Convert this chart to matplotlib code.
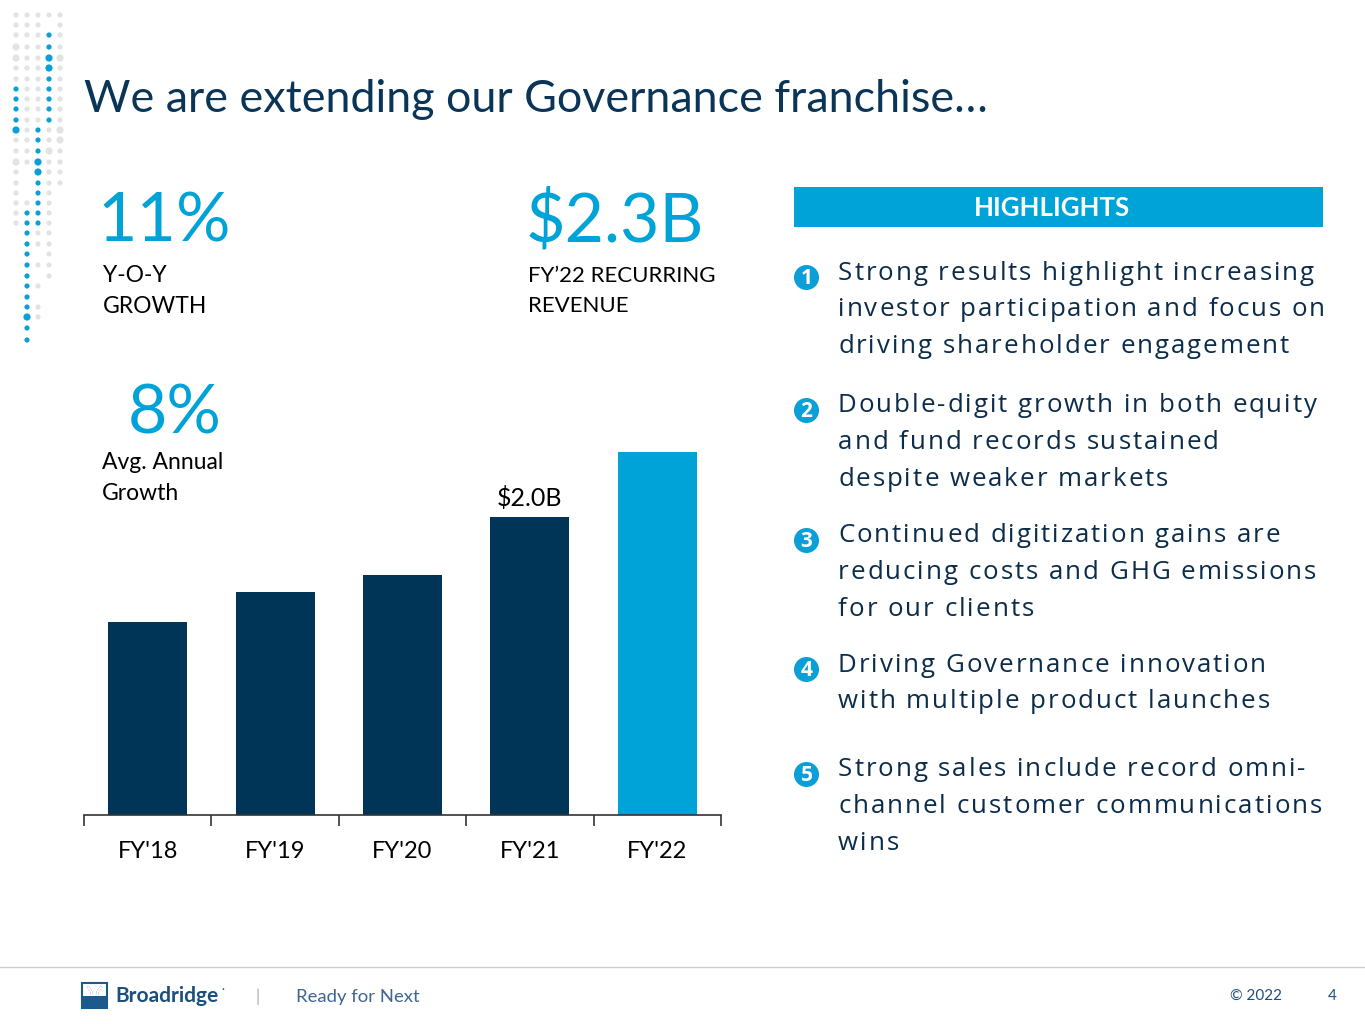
import matplotlib
matplotlib.use("Agg")
import matplotlib.pyplot as plt
from matplotlib.patches import Rectangle, Circle, Arc
from matplotlib.font_manager import FontProperties

W, H = 1365, 1024
NAVY = "#0A3556"
BAR_DARK = "#003557"
BLUE = "#00A3D8"
TEXT_DARK = "#0B2C4A"

# ---- data ----
categories = ["FY'18", "FY'19", "FY'20", "FY'21", "FY'22"]
revenue_b = [1.30, 1.50, 1.61, 2.00, 2.44]   # relative bar heights
bar_colors = [BAR_DARK, BAR_DARK, BAR_DARK, BAR_DARK, BLUE]
bar_label_idx = 3
bar_label_text = "$2.0B"

title = "We are extending our Governance franchise…"
kpi_values = ["11%", "$2.3B", "8%"]
kpi_labels = ["Y-O-Y\nGROWTH", "FY’22 RECURRING\nREVENUE", "Avg. Annual\nGrowth"]

highlights = [
    ["Strong results highlight increasing",
     "investor participation and focus on",
     "driving shareholder engagement"],
    ["Double-digit growth in both equity",
     "and fund records sustained",
     "despite weaker markets"],
    ["Continued digitization gains are",
     "reducing costs and GHG emissions",
     "for our clients"],
    ["Driving Governance innovation",
     "with multiple product launches"],
    ["Strong sales include record omni-",
     "channel customer communications",
     "wins"],
]
highlight_tops = [272, 405, 535, 664, 769]

plt.rcParams['font.family'] = ['Lato', 'DejaVu Sans']

fig = plt.figure(figsize=(W / 100, H / 100), dpi=100)
fig.patch.set_facecolor("white")
renderer = fig.canvas.get_renderer()

# overlay axes in pixel coordinates
ov = fig.add_axes([0, 0, 1, 1])
ov.set_xlim(0, W)
ov.set_ylim(H, 0)
ov.axis("off")
ov.set_zorder(0)


def spaced_text(x, y, s, size, spacing, color, family):
    """Draw text with extra letter spacing (pixels) by placing characters."""
    fp = FontProperties(family=family, size=size)
    ref_w = renderer.get_text_width_height_descent("I", fp, ismath=False)[0]
    for k, ch in enumerate(s):
        if ch == " ":
            continue
        if k == 0:
            off = 0.0
        else:
            off = renderer.get_text_width_height_descent(s[:k] + "I", fp, ismath=False)[0] - ref_w
        ov.text(x + off + k * spacing, y, ch, fontproperties=fp, color=color,
                ha="left", va="baseline")


# ---- decorative dot pattern ----
rows = [4, 15, 25, 35, 47, 58, 68, 79, 89, 99, 109, 120, 130, 140, 151, 162,
        172, 183, 193, 203, 213, 223, 233, 244, 254, 265, 276, 286, 297, 307,
        317, 328, 340]
cols_x = [16, 27, 38, 49, 60]
pattern = [
    ".gggGGggbbbbBggGgggggg...........",
    ".ggggggggggggggg...gbbbbbbbbbbBbb",
    ".gggggggggggbbbBBbbbbbgg.g.g.gg..",
    ".g.bbBBbbbbbggGgggggggggggg......",
    ".ggggGggggggGGgggg...............",
]
for cx, colpat in zip(cols_x, pattern):
    for ry, ch in zip(rows, colpat):
        if ch == '.':
            continue
        color = "#E3E3E3" if ch in "gG" else "#0A9FD6"
        r = 3.6 if ch in "GB" else 2.6
        ov.add_patch(Circle((cx, ry), r, color=color, lw=0))

# ---- title ----
ov.text(84, 100, title, fontsize=32.3, color=NAVY, va="center", ha="left")

# ---- KPI texts ----
ov.text(97, 222, kpi_values[0], fontsize=49, color=BLUE, va="center", ha="left")
ov.text(103, 291, kpi_labels[0], fontsize=16.5, color="black", va="center", ha="left", linespacing=1.55)
ov.text(526, 222, kpi_values[1], fontsize=49, color=BLUE, va="center", ha="left")
ov.text(528, 291, kpi_labels[1], fontsize=16.0, color="black", va="center", ha="left", linespacing=1.58)
ov.text(128, 414, kpi_values[2], fontsize=49, color=BLUE, va="center", ha="left")
ov.text(102, 478, kpi_labels[2], fontsize=16.5, color="black", va="center", ha="left", linespacing=1.55)

# ---- highlights ----
ov.add_patch(Rectangle((794, 187), 529, 40, color=BLUE, lw=0))
ov.text(1052, 208, "HIGHLIGHTS", fontsize=18.5, color="white", fontweight="bold",
        ha="center", va="center")
for i, (lines, top) in enumerate(zip(highlights, highlight_tops)):
    ov.add_patch(Circle((806.5, top + 5.5), 12.5, color="#0A9FD6", lw=0))
    ov.text(806.5, top + 6.5, str(i + 1), fontsize=15, color="white", fontweight="bold",
            ha="center", va="center", family=['Open Sans', 'DejaVu Sans'])
    for j, line in enumerate(lines):
        spaced_text(838, top + 7.5 + j * 36.6, line, 18.6, 1.95, TEXT_DARK,
                    ['Open Sans', 'DejaVu Sans'])

# ---- footer ----
ov.plot([0, W], [967, 967], color="#CFCFCF", lw=1)
ov.add_patch(Rectangle((82, 983), 25, 25, facecolor="white", edgecolor="#1B5A8A", lw=1.5))
ov.add_patch(Rectangle((82, 996), 25, 12, color="#1B5A8A", lw=0))
ov.add_patch(Arc((82, 996), 20, 22, theta1=-60, theta2=60, color="#1B5A8A", lw=1.5))
ov.add_patch(Arc((107, 996), 20, 22, theta1=120, theta2=240, color="#1B5A8A", lw=1.5))
ov.add_patch(Arc((82, 996), 20, 22, theta1=-60, theta2=0, color="white", lw=1.5))
ov.add_patch(Arc((107, 996), 20, 22, theta1=180, theta2=240, color="white", lw=1.5))
ov.text(115, 996, "Broadridge", fontsize=15, color="#1B4F7E", fontweight="bold",
        ha="left", va="center")
ov.text(221, 990, "·", fontsize=8, color="#1B4F7E", ha="left", va="center")
ov.text(258, 997, "|", fontsize=12, color="#AAAAAA", ha="center", va="center")
ov.text(296, 997, "Ready for Next", fontsize=13.3, color="#3D6690", ha="left", va="center")
ov.text(1230, 996, "© 2022", fontsize=11, color="#1B4F7E", ha="left", va="center")
ov.text(1332, 996, "4", fontsize=11, color="#1B4F7E", ha="center", va="center")

# ---- bar chart ----
ax_left, ax_right, ax_base, ax_top = 84, 721, 815, 440
ax = fig.add_axes([ax_left / W, 1 - ax_base / H, (ax_right - ax_left) / W, (ax_base - ax_top) / H])
ax.set_zorder(1)
ax.patch.set_alpha(0)
xs = list(range(len(categories)))
ax.bar(xs, revenue_b, width=0.62, color=bar_colors)
ax.set_xlim(-0.5, len(categories) - 0.5)
ax.set_ylim(0, 2.44 * (ax_base - ax_top) / 363)
for s in ["top", "right", "left"]:
    ax.spines[s].set_visible(False)
ax.spines["bottom"].set_color("#333333")
ax.spines["bottom"].set_linewidth(1.2)
ax.set_yticks([])
ax.set_xticks(xs)
ax.set_xticklabels(categories, fontsize=17)
ax.tick_params(axis="x", which="major", length=0, pad=19)
ax.set_xticks([x - 0.5 for x in range(len(categories) + 1)], minor=True)
ax.tick_params(axis="x", which="minor", length=8, width=1.2, color="#333333")
ax.text(bar_label_idx, revenue_b[bar_label_idx] + 0.05, bar_label_text, fontsize=18,
        ha="center", va="bottom", color="black")

fig.savefig("out.png", dpi=100)
